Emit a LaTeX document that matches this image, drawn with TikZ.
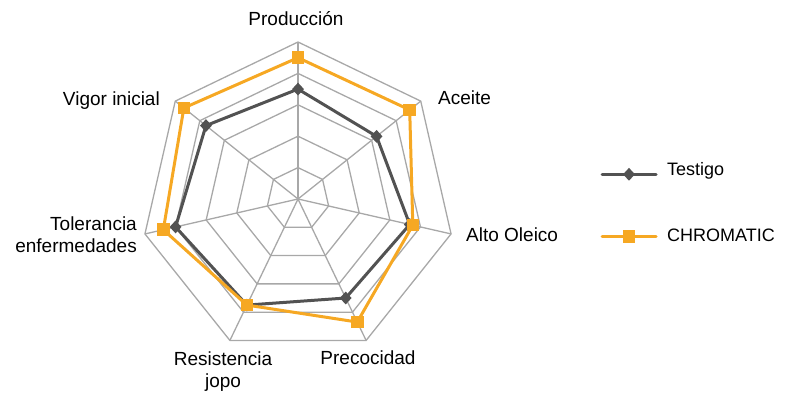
\documentclass[tikz,border=0pt]{standalone}
\usepackage{fontspec}
\setmainfont{Liberation Sans}
\usetikzlibrary{shapes.geometric}
\definecolor{orangeC}{HTML}{F6A823}
\definecolor{darkT}{HTML}{525252}
\definecolor{gridG}{HTML}{A8A8A8}
\begin{document}
\begin{tikzpicture}[x=1pt,y=1pt]
        \tikzstyle{gridline}=[draw=gridG,line width=1.3pt]
        \tikzstyle{testigo}=[draw=darkT,line width=3pt,line join=round,line cap=round]
        \tikzstyle{chromatic}=[draw=orangeC,line width=3pt,line join=round,line cap=round]
        \tikzstyle{tmark}=[diamond,fill=darkT,inner sep=0pt,minimum width=12pt,minimum height=13pt]
        \tikzstyle{cmark}=[rectangle,fill=orangeC,inner sep=0pt,minimum size=12.5pt]
        \tikzstyle{axislabel}=[font=\fontsize{19}{22}\selectfont,inner sep=0pt]
        \tikzstyle{legendtext}=[font=\fontsize{18}{20}\selectfont,inner sep=0pt,anchor=base west]
       \useasboundingbox (0,0) rectangle (794,393);
       \begin{scope}[shift={(298,194)}]
         \coordinate (o) at (0,0);
         % grid
         \foreach \l in {1,...,5}
           \draw[gridline] (90:\l*31.4) \foreach \k in {1,...,6} {-- (90-\k*360/7:\l*31.4)} -- cycle;
         \foreach \k in {0,...,6} {
           \coordinate (a\k) at (90-\k*360/7:157);
           \path[gridline] (o) -- (a\k);
         }
         % series
         \foreach \v [count=\k from 0] in {3.5,3.2,3.65,3.5,3.75,4.0,3.75}
           \coordinate (t\k) at (90-\k*360/7:\v*31.4);
         \foreach \v [count=\k from 0] in {4.5,4.55,3.75,4.35,3.75,4.4,4.65}
           \coordinate (c\k) at (90-\k*360/7:\v*31.4);
         \draw[testigo] (t0) \foreach \k in {1,...,6} {-- (t\k)} -- cycle;
         \foreach \k in {0,...,6} \node[tmark] (tm\k) at (t\k) {};
         \draw[chromatic] (c0) \foreach \k in {1,...,6} {-- (c\k)} -- cycle;
         \foreach \k in {0,...,6} \node[cmark] (cm\k) at (c\k) {};
       \end{scope}
       % axis labels
       \node[axislabel,anchor=base] (lprod) at (296,367) {Producción};
       \node[axislabel,anchor=base west] (lacei) at (438,288) {Aceite};
       \node[axislabel,anchor=base west] (lalto) at (466,151.3) {Alto Oleico};
       \node[axislabel,anchor=base] (lprec) at (368,28) {Precocidad};
       \node[axislabel,anchor=north,align=center] (lresi) at (223,41.6) {Resistencia\\jopo};
       \node[axislabel,anchor=north east,align=right] (ltole) at (137,176.6) {Tolerancia\\enfermedades};
       \node[axislabel,anchor=base east] (lvigo) at (160,287.3) {Vigor inicial};
       % legend
       \coordinate (lt1) at (602,218.7);
       \coordinate (lt2) at (656,218.7);
       \coordinate (lc1) at (602,156.3);
       \coordinate (lc2) at (656,156.3);
       \draw[testigo] (lt1) -- (lt2);
       \node[tmark] (ltm) at (629,218.7) {};
       \draw[chromatic] (lc1) -- (lc2);
       \node[cmark] (lcm) at (629,156.3) {};
       \node[legendtext] (ltt) at (667,217) {Testigo};
       \node[legendtext] (lct) at (667,151.3) {CHROMATIC};
\end{tikzpicture}
\end{document}
